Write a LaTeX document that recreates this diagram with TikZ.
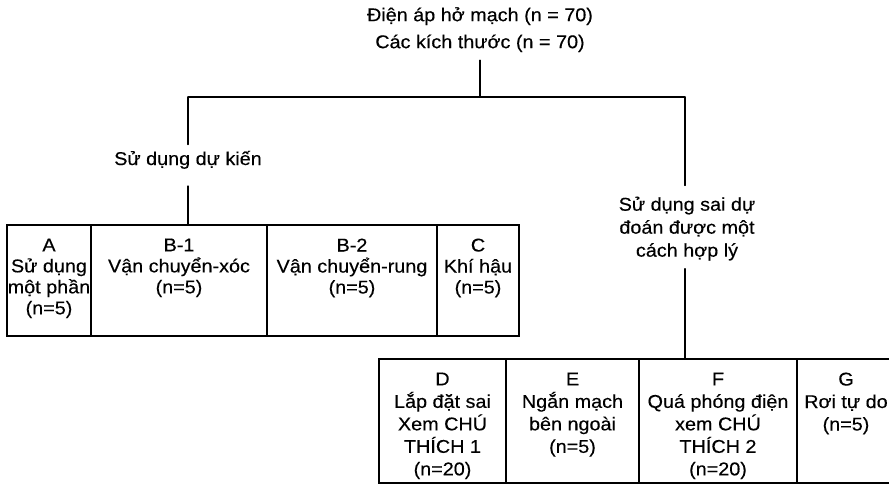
\documentclass[tikz,border=0pt]{standalone}
\usepackage{fontspec}
\setmainfont{Liberation Sans}[FakeStretch=1.07, FakeBold=0.3]
\begin{document}
\begin{tikzpicture}[x=1pt,y=-1pt,
  ln/.style={line width=1.3pt, line cap=round},
  cell/.style={draw, line width=1.3pt, inner sep=0pt, outer sep=0pt},
  ttl/.style={font=\fontsize{18.5}{27}\selectfont, align=center, inner sep=0pt},
  lbl/.style={font=\fontsize{18.5}{23}\selectfont, align=center, inner sep=0pt},
  uptxt/.style={font=\fontsize{18.5}{21}\selectfont, align=center, inner sep=0pt, anchor=north},
  lowtxt/.style={font=\fontsize{18.5}{22.5}\selectfont, align=center, inner sep=0pt, anchor=north}]
\clip (0,0) rectangle (889,484);
\fill[white] (0,0) rectangle (889,484);

% title
\node[ttl, anchor=north] (title) at (480,7) {Điện áp hở mạch (n = 70)\\Các kích thước (n = 70)};

% branch labels
\node[lbl, anchor=base] (lblL) at (188,165) {Sử dụng dự kiến};
\node[lbl, anchor=north] (lblR) at (687,196.5) {Sử dụng sai dự\\đoán được một\\cách hợp lý};

% upper boxes
\node[cell, minimum width=84pt, minimum height=111pt] (A) at (49,280.5) {};
\node[cell, minimum width=176pt, minimum height=111pt] (B1) at (179,280.5) {};
\node[cell, minimum width=170pt, minimum height=111pt] (B2) at (352,280.5) {};
\node[cell, minimum width=82pt, minimum height=111pt] (C) at (478,280.5) {};

\node[uptxt] (At) at ([yshift=-13.4pt]A.north) {A\\Sử dụng\\một phần\\(n=5)};
\node[uptxt] (B1t) at ([yshift=-13.4pt]B1.north) {B-1\\Vận chuyển-xóc\\(n=5)};
\node[uptxt] (B2t) at ([yshift=-13.4pt]B2.north) {B-2\\Vận chuyển-rung\\(n=5)};
\node[uptxt] (Ct) at ([yshift=-13.4pt]C.north) {C\\Khí hậu\\(n=5)};

% lower boxes
\node[cell, minimum width=127pt, minimum height=124pt] (D) at (442.5,421) {};
\node[cell, minimum width=133pt, minimum height=124pt] (E) at (572.5,421) {};
\node[cell, minimum width=158pt, minimum height=124pt] (F) at (718,421) {};
\node[cell, minimum width=98pt, minimum height=124pt] (G) at (846,421) {};

\node[lowtxt] (Dt) at ([yshift=-13.4pt]D.north) {D\\Lắp đặt sai\\Xem CHÚ\\THÍCH 1\\(n=20)};
\node[lowtxt] (Et) at ([yshift=-13.4pt]E.north) {E\\Ngắn mạch\\bên ngoài\\(n=5)};
\node[lowtxt] (Ft) at ([yshift=-13.4pt]F.north) {F\\Quá phóng điện\\xem CHÚ\\THÍCH 2\\(n=20)};
\node[lowtxt] (Gt) at ([yshift=-13.4pt]G.north) {G\\Rơi tự do\\(n=5)};

% connectors
\coordinate (j0) at (480,97);
\coordinate (jL) at (188,97);
\coordinate (jR) at (685,97);
\draw[ln, shorten <=8pt] (title.south) -- (j0);
\draw[ln] (jL) -- (jR);
\draw[ln, shorten >=6pt] (jL) -- (jL |- lblL.north);
\draw[ln, shorten <=17pt] (jL |- lblL.south) -- (jL |- B1.north);
\draw[ln, shorten >=11pt] (jR) -- (jR |- lblR.north);
\draw[ln, shorten <=8pt] (jR |- lblR.south) -- (jR |- F.north);
\end{tikzpicture}
\end{document}
